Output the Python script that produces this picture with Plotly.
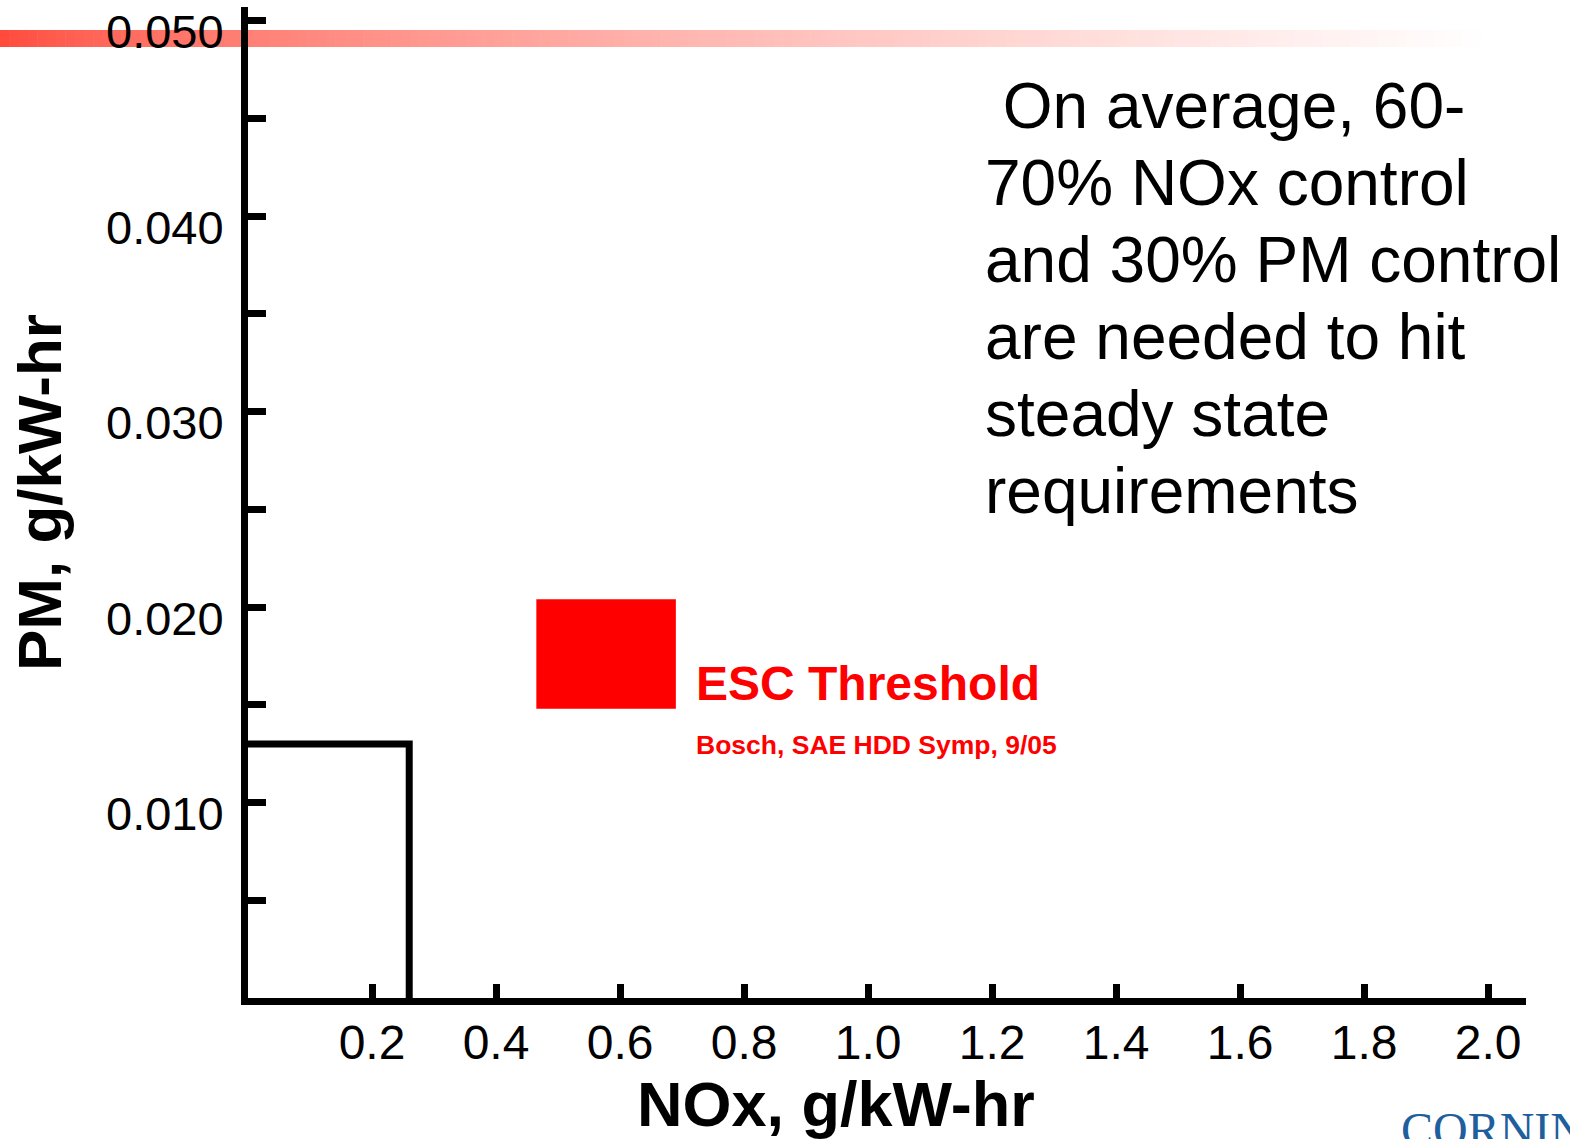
import plotly.graph_objects as go

# Axis ticks
x_ticks = [0.2, 0.4, 0.6, 0.8, 1.0, 1.2, 1.4, 1.6, 1.8, 2.0]
x_tick_labels = ["0.2", "0.4", "0.6", "0.8", "1.0", "1.2", "1.4", "1.6", "1.8", "2.0"]
y_ticks = [0.010, 0.020, 0.030, 0.040, 0.050]
y_tick_labels = ["0.010", "0.020", "0.030", "0.040", "0.050"]
y_minor_ticks = [0.005, 0.015, 0.025, 0.035, 0.045]

# Emission standard box: NOx limit and PM limit
std_nox = [0.0, 0.26, 0.26]
std_pm = [0.013, 0.013, 0.0]

# ESC threshold region (NOx range, PM range)
esc_nox = [0.465, 0.69]
esc_pm = [0.0148, 0.0204]

note_lines = [
    "\u00a0On average, 60-",
    "70% NOx control",
    "and 30% PM control",
    "are needed to hit",
    "steady state",
    "requirements",
]

W, H = 1570, 1139
ML, MR, MT, MB = 248, 44, 7, 141
PW, PH = W - ML - MR, H - MT - MB
X_RANGE = [0, 2.061]
Y_RANGE = [0, 0.0507]

FONT = "Liberation Sans, Arial, sans-serif"


def px(xp):
    return (xp - ML) / PW


def py(yp):
    return (H - MB - yp) / PH


fig = go.Figure()

# Standard box outline
fig.add_trace(go.Scatter(
    x=std_nox, y=std_pm, mode="lines",
    line=dict(color="black", width=7),
    hoverinfo="skip", showlegend=False,
))

# ESC threshold block
fig.add_trace(go.Scatter(
    x=[esc_nox[0], esc_nox[1], esc_nox[1], esc_nox[0], esc_nox[0]],
    y=[esc_pm[0], esc_pm[0], esc_pm[1], esc_pm[1], esc_pm[0]],
    mode="lines", fill="toself", fillcolor="#ff0000",
    line=dict(color="#ff0000", width=0),
    hoverinfo="skip", showlegend=False,
))

# Title bar: red stripe fading to white
shapes = []
n_seg = 160
x_end = 1490
base = (255, 70, 55)
for i in range(n_seg):
    t = (i + 0.5) / n_seg
    f = t ** 0.65
    r, g, b = [round(c + (255 - c) * f) for c in base]
    x0 = x_end * i / n_seg
    x1 = x_end * (i + 1) / n_seg + 0.6
    shapes.append(dict(
        type="rect", xref="paper", yref="paper",
        x0=px(x0), x1=px(x1), y0=py(47), y1=py(30),
        fillcolor=f"rgb({r},{g},{b})", line=dict(width=0), layer="below",
    ))

annotations = []

# y tick labels
for v, lab in zip(y_ticks, y_tick_labels):
    annotations.append(dict(
        x=px(226), xref="paper", y=v, yref="y", text=lab, showarrow=False,
        xanchor="right", yanchor="middle", yshift=-11,
        font=dict(family=FONT, size=47, color="black"),
    ))

# Axis titles
annotations.append(dict(
    x=px(836), xref="paper", y=py(1104), yref="paper",
    text="<b>NOx, g/kW-hr</b>", showarrow=False,
    xanchor="center", yanchor="middle",
    font=dict(family=FONT, size=63, color="black"),
))
annotations.append(dict(
    x=px(40), xref="paper", y=py(493), yref="paper",
    text="<b>PM, g/kW-hr</b>", showarrow=False, textangle=-90,
    xanchor="center", yanchor="middle",
    font=dict(family=FONT, size=62, color="black"),
))

# ESC labels
annotations.append(dict(
    x=px(694), xref="paper", y=py(684), yref="paper",
    text="<b>ESC Threshold</b>", showarrow=False,
    xanchor="left", yanchor="middle",
    font=dict(family=FONT, size=48, color="#ff0000"),
))
annotations.append(dict(
    x=px(694), xref="paper", y=py(745), yref="paper",
    text="<b>Bosch, SAE HDD Symp, 9/05</b>", showarrow=False,
    xanchor="left", yanchor="middle",
    font=dict(family=FONT, size=26.5, color="#ff0000"),
))

# Side note
for i, line in enumerate(note_lines):
    annotations.append(dict(
        x=px(983), xref="paper", y=py(106 + 77 * i), yref="paper",
        text=line, showarrow=False,
        xanchor="left", yanchor="middle",
        font=dict(family=FONT, size=64, color="black"),
    ))

# Corporate mark
annotations.append(dict(
    x=px(1399), xref="paper", y=py(1101), yref="paper",
    text="CORNING", showarrow=False,
    xanchor="left", yanchor="top",
    font=dict(family="Liberation Serif, Times New Roman, serif", size=48, color="#1f5f9e"),
))

fig.update_layout(
    width=W, height=H,
    margin=dict(l=ML, r=MR, t=MT, b=MB, pad=0),
    paper_bgcolor="white", plot_bgcolor="white",
    showlegend=False,
    shapes=shapes,
    annotations=annotations,
    xaxis=dict(
        range=X_RANGE, showgrid=False, zeroline=False,
        showline=True, linecolor="black", linewidth=7,
        ticks="inside", ticklen=14, tickwidth=7, tickcolor="black",
        tickvals=x_ticks, ticktext=x_tick_labels,
        ticklabelstandoff=-4,
        tickfont=dict(family=FONT, size=48, color="black"),
    ),
    yaxis=dict(
        range=Y_RANGE, showgrid=False, zeroline=False,
        showline=True, linecolor="black", linewidth=7,
        ticks="inside", ticklen=18, tickwidth=7, tickcolor="black",
        tickvals=sorted(y_ticks + y_minor_ticks),
        showticklabels=False,
    ),
)

fig.write_html("out.html")
